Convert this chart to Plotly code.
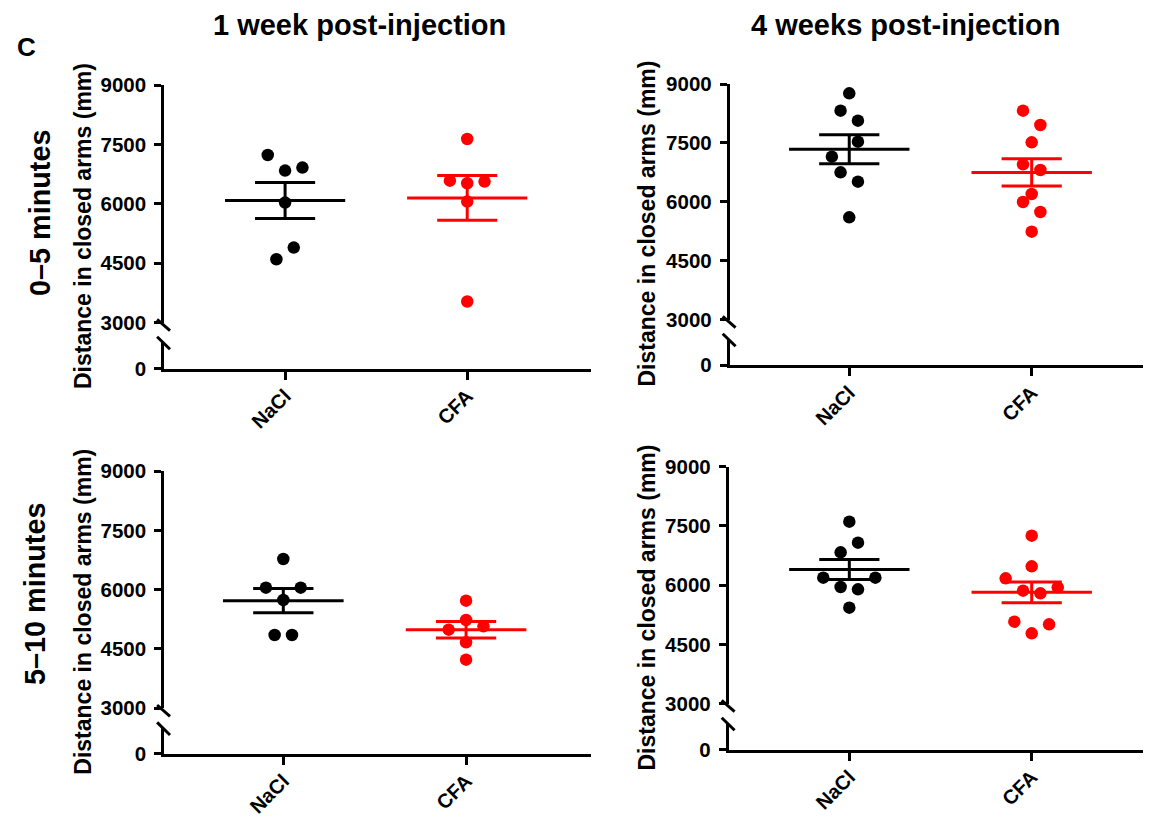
import numpy as np
import plotly.graph_objects as go

# ---------------- data ----------------
categories = ["NaCl", "CFA"]
y_tickvals = [3000, 4500, 6000, 7500, 9000]

col_titles = ["1 week post-injection", "4 weeks post-injection"]
row_titles = ["0\u20135 minutes", "5\u201310 minutes"]
y_title = "Distance in closed arms (mm)"

nacl_w1_0_5 = [7233, 6838, 6914, 6030, 4894, 4600]
nacl_w1_0_5_slot = [-2, 0, 2, 0, 1, -1]
cfa_w1_0_5 = [7637, 6585, 6518, 6560, 6055, 3532]
cfa_w1_0_5_slot = [0, -2, 0, 2, 0, 0]

nacl_w4_0_5 = [8762, 8321, 8066, 7531, 7149, 6750, 6512, 5604]
nacl_w4_0_5_slot = [0, -1, 1, 1, -2, -1, 1, 0]
cfa_w4_0_5 = [8321, 7956, 7514, 6954, 6810, 6198, 5995, 5740, 5239]
cfa_w4_0_5_slot = [-1, 1, 0, -1, 1, 0, -1, 1, 0]

nacl_w1_5_10 = [6775, 6051, 6051, 5739, 4854, 4854]
nacl_w1_5_10_slot = [0, -2, 2, 0, -1, 1]
cfa_w1_5_10 = [5722, 5233, 4989, 5073, 4669, 4230]
cfa_w1_5_10_slot = [0, 0, -2, 2, 0, 0]

nacl_w4_5_10 = [7607, 7076, 6831, 6189, 6189, 5953, 5894, 5430]
nacl_w4_5_10_slot = [0, 1, -1, -3, 3, -1, 1, 0]
cfa_w4_5_10 = [7253, 6476, 6173, 5945, 5860, 5793, 5075, 5008, 4780]
cfa_w4_5_10_slot = [0, 0, -3, 3, -1, 1, -2, 2, 0]

# ---------------- style / layout ----------------
PAGE_W, PAGE_H = 1151, 819
OFF = 8                      # default body margin of the html page
W, H = PAGE_W - OFF, PAGE_H - OFF
BLACK, RED = "#000000", "#ff0000"
FONT = "Liberation Sans, Arial, Helvetica, sans-serif"
JITTER_STEP = 0.0476
MEAN_HALF = 0.33
CAP_HALF = 0.165
LW = 3

def fx(px):
    return (px - OFF) / W

def fy(py):
    return 1 - (py - OFF) / H

# pixel geometry (page pixels) of each panel: x-left, x-right, y(9000), y(3000), top of lower stub, y(0)
panels = [
    dict(xl=162.7, xr=590.7, y9=85.0, y3=322.6, ylt=343.0, y0=370.0, xr_rng=[-0.672, 1.678],
         groups=[(nacl_w1_0_5, nacl_w1_0_5_slot, BLACK), (cfa_w1_0_5, cfa_w1_0_5_slot, RED)]),
    dict(xl=728.3, xr=1151, y9=84.0, y3=319.6, ylt=340.0, y0=366.7, xr_rng=[-0.663, 1.654],
         groups=[(nacl_w4_0_5, nacl_w4_0_5_slot, BLACK), (cfa_w4_0_5, cfa_w4_0_5_slot, RED)]),
    dict(xl=162.7, xr=590.7, y9=471.0, y3=708.3, ylt=728.0, y0=755.0, xr_rng=[-0.66, 1.682],
         groups=[(nacl_w1_5_10, nacl_w1_5_10_slot, BLACK), (cfa_w1_5_10, cfa_w1_5_10_slot, RED)]),
    dict(xl=727.3, xr=1151, y9=466.7, y3=703.6, ylt=724.0, y0=751.0, xr_rng=[-0.669, 1.654],
         groups=[(nacl_w4_5_10, nacl_w4_5_10_slot, BLACK), (cfa_w4_5_10, cfa_w4_5_10_slot, RED)]),
]

fig = go.Figure()
layout = {}
shapes = []
ytickfont = dict(family=FONT, size=20.5, color=BLACK, weight="bold")
xtickfont = dict(family=FONT, size=20, color=BLACK, weight="bold")
HALF = LW / 2  # axis lines are drawn just outside the domain

for i, p in enumerate(panels):
    xa = "x" if i == 0 else f"x{i+1}"
    yu_n = 2 * i + 1
    yl_n = 2 * i + 2
    yu = "y" if yu_n == 1 else f"y{yu_n}"
    yl = f"y{yl_n}"
    xkey = "xaxis" if i == 0 else f"xaxis{i+1}"
    yukey = "yaxis" if yu_n == 1 else f"yaxis{yu_n}"
    ylkey = f"yaxis{yl_n}"

    xl = p["xl"] + HALF
    xr = min(p["xr"], PAGE_W)
    span_px = p["xr"] - p["xl"]
    r0, r1 = p["xr_rng"]
    upp = (r1 - r0) / span_px
    rng = [r0 + HALF * upp, r1]

    layout[xkey] = dict(
        domain=[fx(xl), min(1.0, fx(xr))], range=rng, anchor=yl,
        tickmode="array", tickvals=list(range(len(categories))), ticktext=categories,
        tickangle=-45, showline=True, linewidth=LW, linecolor=BLACK,
        ticks="outside", ticklen=8, tickwidth=LW, tickcolor=BLACK, automargin=False,
        showgrid=False, zeroline=False, tickfont=xtickfont, fixedrange=True,
        ticklabelstandoff=-3,
    )
    layout[yukey] = dict(
        domain=[fy(p["y3"]), fy(p["y9"])], range=[3000, 9000], anchor=xa,
        tickmode="array", tickvals=y_tickvals, ticktext=[str(v) for v in y_tickvals],
        showline=True, linewidth=LW, linecolor=BLACK, automargin=False,
        ticks="outside", ticklen=7, tickwidth=LW, tickcolor=BLACK,
        showgrid=False, zeroline=False, tickfont=ytickfont, ticklabelstandoff=4,
    )
    layout[ylkey] = dict(
        domain=[fy(p["y0"] - HALF), fy(p["ylt"])], range=[0, 1000], anchor=xa,
        tickmode="array", tickvals=[0], ticktext=["0"],
        showline=True, linewidth=LW, linecolor=BLACK, automargin=False,
        ticks="outside", ticklen=7, tickwidth=LW, tickcolor=BLACK,
        showgrid=False, zeroline=False, tickfont=ytickfont, ticklabelstandoff=4,
    )

    # empty trace so the lower (0) stub axis is drawn
    fig.add_trace(go.Scatter(x=[None], y=[None], mode="markers", xaxis=xa, yaxis=yl,
                             showlegend=False, hoverinfo="skip"))

    for ci, (vals, slots, col) in enumerate(p["groups"]):
        v = np.array(vals, dtype=float)
        m = v.mean()
        sem = v.std(ddof=1) / np.sqrt(len(v))
        fig.add_trace(go.Scatter(x=[ci - MEAN_HALF, ci + MEAN_HALF], y=[m, m], mode="lines",
                                 line=dict(color=col, width=LW), xaxis=xa, yaxis=yu,
                                 showlegend=False, hoverinfo="skip"))
        fig.add_trace(go.Scatter(
            x=[ci, ci, None, ci - CAP_HALF, ci + CAP_HALF, None, ci - CAP_HALF, ci + CAP_HALF],
            y=[m - sem, m + sem, None, m + sem, m + sem, None, m - sem, m - sem],
            mode="lines", line=dict(color=col, width=LW), xaxis=xa, yaxis=yu,
            showlegend=False, hoverinfo="skip"))
        fig.add_trace(go.Scatter(
            x=[ci + s * JITTER_STEP for s in slots], y=vals, mode="markers",
            marker=dict(color=col, size=12.5, line=dict(width=0)),
            xaxis=xa, yaxis=yu, showlegend=False, cliponaxis=False))

    # axis break slashes (paper refs so they are not clipped)
    for (d0, d1) in [(3.3, -8.1), (-14.1, -26.7)]:
        shapes.append(dict(
            type="line", xref="paper", yref="paper", xsizemode="pixel", ysizemode="pixel",
            xanchor=fx(p["xl"]), yanchor=fy(p["y3"]), x0=-5.6, x1=7.3, y0=d0, y1=d1,
            line=dict(color=BLACK, width=LW)))

annotations = []
bold = dict(family=FONT, color=BLACK, weight="bold")

annotations.append(dict(text="C", x=fx(26), y=fy(47.5), xref="paper", yref="paper",
                        xanchor="center", yanchor="middle", showarrow=False,
                        font=dict(size=26, **bold)))
for txt, cx in zip(col_titles, [359.7, 905.5]):
    annotations.append(dict(text=txt, x=fx(cx), y=fy(25), xref="paper", yref="paper",
                            xanchor="center", yanchor="middle", showarrow=False,
                            font=dict(size=29, **bold)))
for txt, cx, cy in zip(row_titles, [40, 35], [213, 594]):
    annotations.append(dict(text=txt, x=fx(cx), y=fy(cy), xref="paper", yref="paper",
                            xanchor="center", yanchor="middle", showarrow=False,
                            textangle=-90, font=dict(size=28.8, **bold)))
for cx, cy in [(83, 226), (83, 611.7), (646.5, 224), (646.5, 608)]:
    annotations.append(dict(text=y_title, x=fx(cx), y=fy(cy), xref="paper", yref="paper",
                            xanchor="center", yanchor="middle", showarrow=False,
                            textangle=-90, font=dict(size=23, **bold)))

fig.update_layout(
    width=W, height=H, margin=dict(l=0, r=0, t=0, b=0, autoexpand=False),
    paper_bgcolor="white", plot_bgcolor="white",
    shapes=shapes, annotations=annotations, showlegend=False,
    **layout,
)

fig.write_html("out.html")
